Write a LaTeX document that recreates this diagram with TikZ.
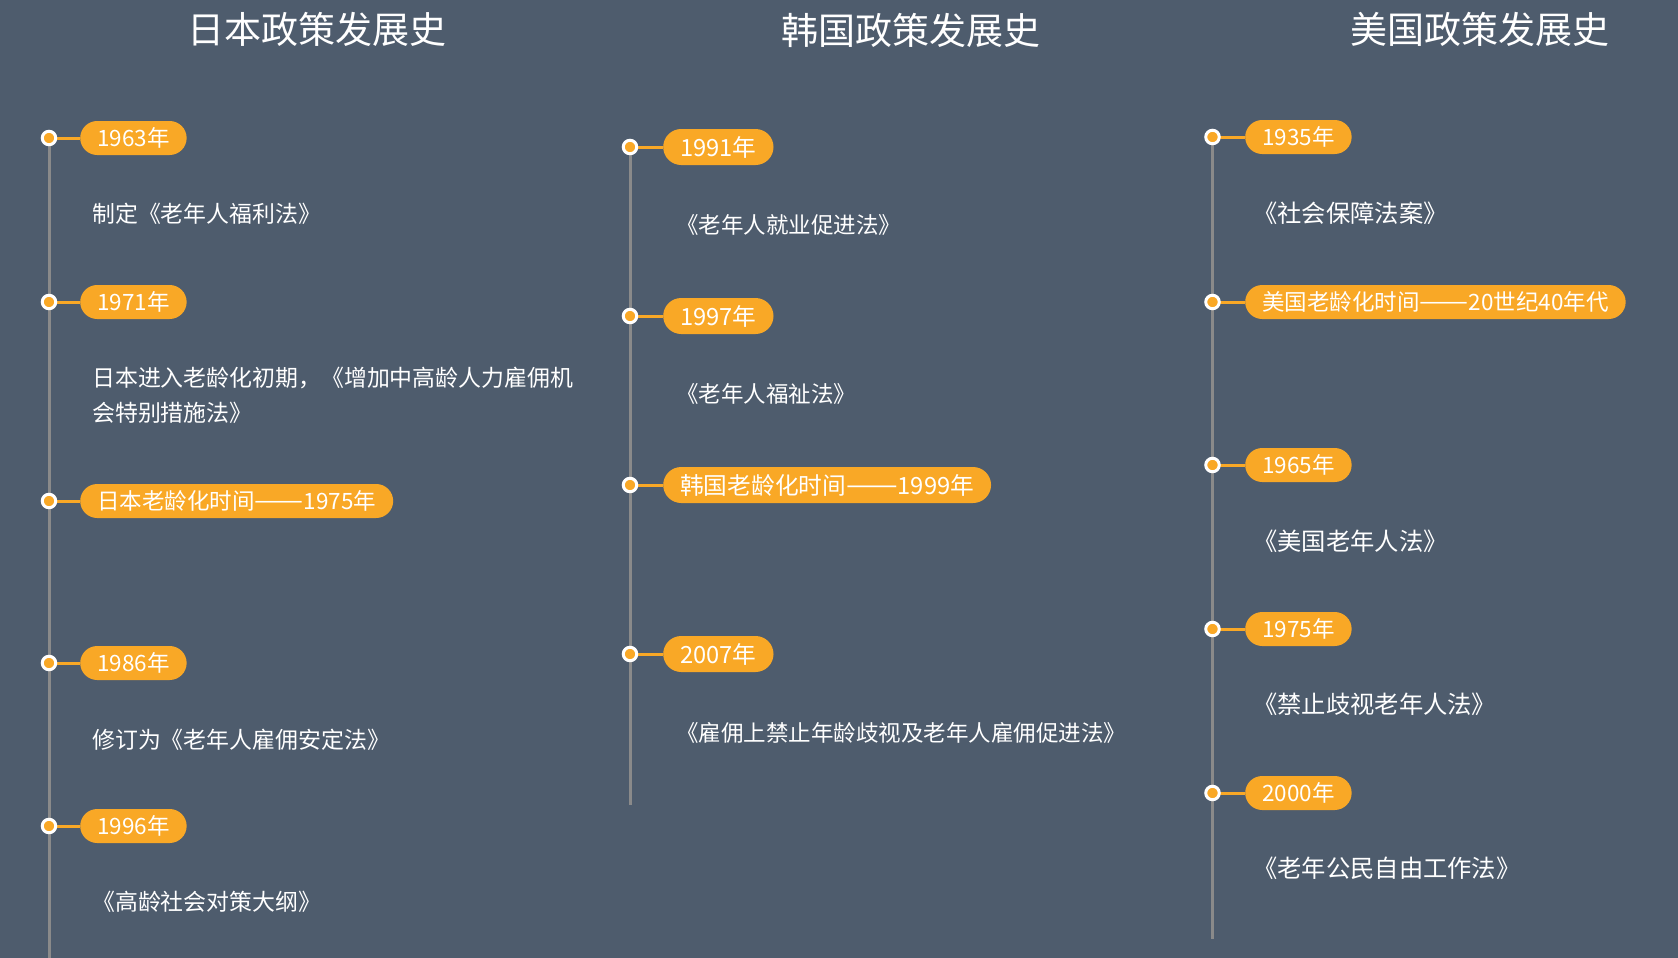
\documentclass[tikz,border=0pt]{standalone}
\usepackage{fontspec}
\usepackage{graphicx}
\setmainfont{Noto Sans CJK SC}
\definecolor{bg}{HTML}{4E5C6D}
\definecolor{org}{HTML}{F9A826}
\definecolor{tl}{HTML}{8A8A8A}
\pgfdeclarelayer{bgfill}
\pgfdeclarelayer{lines}
\pgfsetlayers{bgfill,lines,main}
\newcommand{\dashpair}{\scalebox{1.3}[1.15]{——}}
\begin{document}
\begin{tikzpicture}[x=1pt,y=-1pt,
  pill/.style={fill=org, text=white, rounded corners=17pt, minimum height=34pt, inner xsep=17pt, inner ysep=0pt, anchor=west, font=\fontsize{22.5}{27}\selectfont},
  pillk/.style={pill, rounded corners=18pt, minimum height=36pt, font=\fontsize{23.7}{28}\selectfont},
  dot/.style={circle, fill=org, draw=white, line width=3pt, minimum size=13.5pt, inner sep=0pt},
  desc/.style={anchor=west, text=white, font=\fontsize{22.5}{35}\selectfont, align=left, inner sep=0pt},
  descj/.style={desc, font=\fontsize{22.9}{35}\selectfont},
  descu/.style={desc, font=\fontsize{24.3}{35}\selectfont},
  ttl/.style={text=white, font=\fontsize{37}{40}\selectfont},
  axisline/.style={draw=tl, line width=3pt},
  link/.style={draw=org, line width=3pt}]
\begin{pgfonlayer}{bgfill}
\fill[bg] (0,0) rectangle (1678,958);
\end{pgfonlayer}
\useasboundingbox (0,0) rectangle (1678,958);

% titles
\node[ttl] (tj) at (317,29) {日本政策发展史};
\node[ttl] (tk) at (911,30) {韩国政策发展史};
\node[ttl] (tu) at (1480,29) {美国政策发展史};

% Japan
\node[dot] (j1) at (49,138) {};
\node[dot] (j2) at (49,302) {};
\node[dot] (j3) at (49,501) {};
\node[dot] (j4) at (49,663) {};
\node[dot] (j5) at (49,826) {};
\coordinate (jend) at (49,960);
\node[pill] (pj1) at (80,138) {1963年};
\node[pill] (pj2) at (80,302) {1971年};
\node[pill] (pj3) at (80,501) {日本老龄化时间\dashpair 1975年};
\node[pill] (pj4) at (80,663) {1986年};
\node[pill] (pj5) at (80,826) {1996年};
\node[descj] (dj1) at (92,214) {制定《老年人福利法》};
\node[descj] (dj2) at (92,395.5) {日本进入老龄化初期，《增加中高龄人力雇佣机\\会特别措施法》};
\node[descj] (dj4) at (92,739.5) {修订为《老年人雇佣安定法》};
\node[descj] (dj5) at (92,902) {《高龄社会对策大纲》};

% Korea
\node[dot] (k1) at (630,147) {};
\node[dot] (k2) at (630,316) {};
\node[dot] (k3) at (630,485) {};
\node[dot] (k4) at (630,654) {};
\coordinate (kend) at (630,805);
\node[pillk] (pk1) at (663,147) {1991年};
\node[pillk] (pk2) at (663,316) {1997年};
\node[pillk] (pk3) at (663,485) {韩国老龄化时间\dashpair 1999年};
\node[pillk] (pk4) at (663,654) {2007年};
\node[desc] (dk1) at (676,225) {《老年人就业促进法》};
\node[desc] (dk2) at (676,394) {《老年人福祉法》};
\node[desc] (dk4) at (676,733) {《雇佣上禁止年龄歧视及老年人雇佣促进法》};

% USA
\node[dot] (u1) at (1212.5,137) {};
\node[dot] (u2) at (1212.5,302) {};
\node[dot] (u3) at (1212.5,465) {};
\node[dot] (u4) at (1212.5,629) {};
\node[dot] (u5) at (1212.5,793) {};
\coordinate (uend) at (1212.5,939);
\node[pill] (pu1) at (1245,137) {1935年};
\node[pill] (pu2) at (1245,302) {美国老龄化时间\dashpair 20世纪40年代};
\node[pill] (pu3) at (1245,465) {1965年};
\node[pill] (pu4) at (1245,629) {1975年};
\node[pill] (pu5) at (1245,793) {2000年};
\node[descu] (du1) at (1253,213) {《社会保障法案》};
\node[descu] (du3) at (1253,541) {《美国老年人法》};
\node[descu] (du4) at (1253,704) {《禁止歧视老年人法》};
\node[descu] (du5) at (1253,868) {《老年公民自由工作法》};

\begin{pgfonlayer}{lines}
\draw[axisline] (j1.center) -- (jend);
\draw[axisline] (k1.center) -- (kend);
\draw[axisline] (u1.center) -- (uend);
\foreach \a/\b in {j1/pj1,j2/pj2,j3/pj3,j4/pj4,j5/pj5,k1/pk1,k2/pk2,k3/pk3,k4/pk4,u1/pu1,u2/pu2,u3/pu3,u4/pu4,u5/pu5}
  \draw[link] (\a.center) -- (\b.west);
\end{pgfonlayer}
\end{tikzpicture}
\end{document}
